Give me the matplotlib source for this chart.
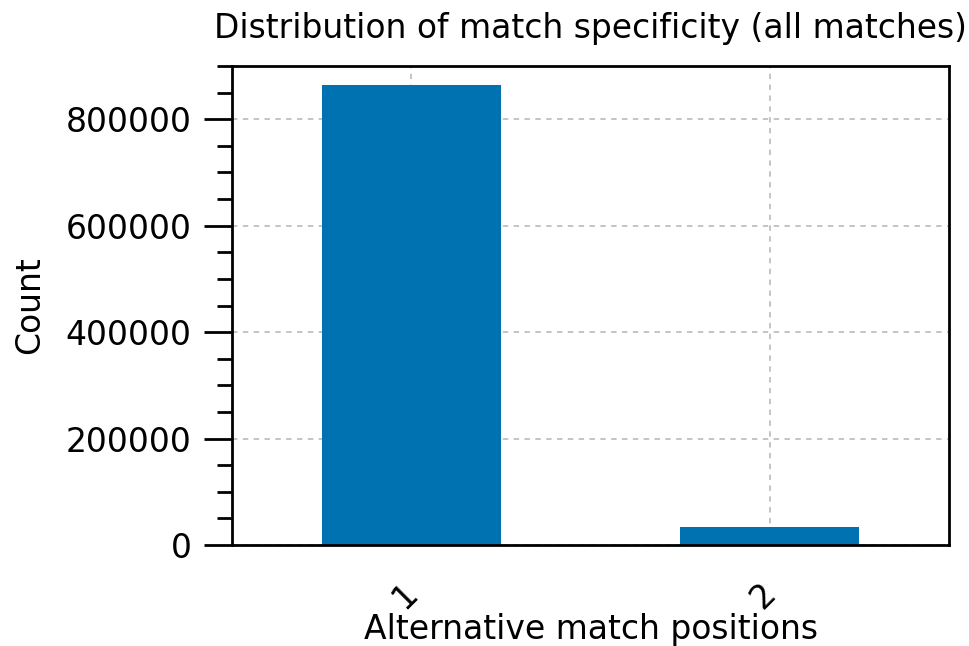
import matplotlib
matplotlib.use("Agg")
import matplotlib.pyplot as plt
import matplotlib.transforms as mtransforms
import pandas as pd
from matplotlib.ticker import MultipleLocator

# alternative match positions -> count
positions = [1, 2]
counts = [864000, 34000]

plt.rcParams["font.family"] = "DejaVu Sans"
plt.rcParams["font.size"] = 23.8

series = pd.Series(counts, index=positions)

fig = plt.figure(figsize=(9.69, 6.46), dpi=100)
ax = fig.add_axes([232 / 969, 1 - 545 / 646, (949 - 232) / 969, (545 - 66) / 646])
series.plot.bar(ax=ax, color="#0072B2", width=0.5, rot=45, zorder=2)

ax.set_ylim(0, 900000)
ax.yaxis.set_major_locator(MultipleLocator(200000))
ax.yaxis.set_minor_locator(MultipleLocator(50000))
ax.tick_params(axis="y", which="major", length=20, width=2, direction="out", pad=9)
ax.tick_params(axis="y", which="minor", length=11, width=2, direction="out")
ax.tick_params(axis="x", which="major", length=0, pad=23)
shift = mtransforms.ScaledTranslation(-6 / 100, 0, fig.dpi_scale_trans)
for lab in ax.get_xticklabels():
    lab.set_ha("center")
    lab.set_transform(lab.get_transform() + shift)

ax.grid(True, linestyle=(0, (3, 3)), color="#bfbfbf", linewidth=1.3, zorder=0)
ax.set_axisbelow(True)
for s in ax.spines.values():
    s.set_linewidth(2)
    s.set_color("black")

ax.set_title("Distribution of match specificity (all matches)", fontsize=23.7, pad=20.5)
ax.set_xlabel("Alternative match positions", labelpad=-1.5)
ax.set_ylabel("Count", labelpad=14)

fig.savefig("out.png", dpi=100)
